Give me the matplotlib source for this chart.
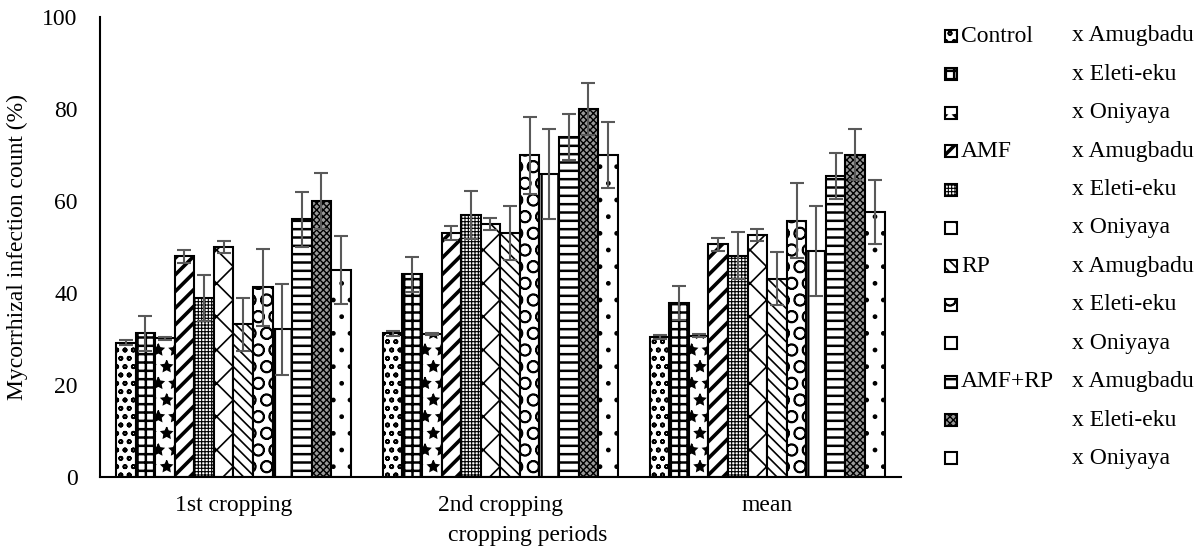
import numpy as np
import matplotlib
matplotlib.use("Agg")
import matplotlib.pyplot as plt
from matplotlib.patches import Rectangle

plt.rcParams['font.family'] = ['Liberation Serif', 'DejaVu Serif']
plt.rcParams['hatch.linewidth'] = 1.3

periods = ["1st cropping", "2nd cropping", "mean"]
treatments = ["Control", "", "", "AMF", "", "", "RP", "", "", "AMF+RP", "", ""]
locations = ["x Amugbadu", "x Eleti-eku", "x Oniyaya"] * 4

# rows = treatment x location, cols = period
values = [
    [29.2, 31.2, 30.4],
    [31.2, 44.1, 37.8],
    [30.1, 31.0, 30.7],
    [48.0, 53.0, 50.6],
    [39.0, 57.0, 48.1],
    [50.0, 55.0, 52.6],
    [33.2, 53.0, 43.1],
    [41.2, 69.9, 55.7],
    [32.1, 65.9, 49.1],
    [56.0, 74.0, 65.4],
    [60.0, 80.0, 70.1],
    [45.0, 70.0, 57.6],
]
errors = [
    [0.5, 0.6, 0.5],
    [3.8, 3.8, 3.6],
    [0.3, 0.2, 0.3],
    [1.4, 1.5, 1.4],
    [5.0, 5.2, 5.1],
    [1.4, 1.4, 1.4],
    [5.8, 5.8, 5.8],
    [8.3, 8.3, 8.1],
    [9.9, 9.8, 9.7],
    [6.0, 5.0, 5.0],
    [6.0, 5.6, 5.6],
    [7.3, 7.1, 7.0],
]

hatches = ['oo', '++', '*', '//', '+++++', 'x', '\\\\\\', 'O', '|', '--', 'xxxxx', '.']
hatch_lw = [1.2, 1.8, 1.0, 2.6, 0.8, 1.2, 1.2, 1.2, 1.6, 1.8, 1.0, 1.0]
faces = ['white'] * 10 + ['#9a9a9a', 'white']


def set_hlw(p, lw):
    try:
        p.set_hatch_linewidth(lw)
    except AttributeError:
        pass


fig = plt.figure(figsize=(12.04, 5.5), dpi=100)
ax = fig.add_axes([0.083, 0.133, 0.665, 0.836])

n = len(values)
x = np.arange(len(periods))
group_w = 0.88
w = group_w / n
for i in range(n):
    pos = x - group_w / 2 + w * (i + 0.5)
    bars = ax.bar(pos, values[i], width=w, color=faces[i], edgecolor='black',
                  linewidth=1.5, hatch=hatches[i], zorder=2)
    for b in bars:
        set_hlw(b, hatch_lw[i])
    ax.errorbar(pos, values[i], yerr=errors[i], fmt='none', ecolor='#595959',
                elinewidth=1.5, capsize=5, capthick=1.5, zorder=3)

ax.set_xlim(-0.5, 2.5)
ax.set_ylim(0, 100)
ax.set_yticks(range(0, 101, 20))
ax.set_xticks(x)
ax.set_xticklabels(periods)
ax.tick_params(length=0, labelsize=17, pad=13)
ax.tick_params(axis='y', pad=16)
for s in ['top', 'right']:
    ax.spines[s].set_visible(False)
for s in ['left', 'bottom']:
    ax.spines[s].set_linewidth(1.5)
ax.set_ylabel("Mycorrhizal infection count (%)", fontsize=17, labelpad=10)
ax.set_xlabel("cropping periods", fontsize=17)
ax.xaxis.set_label_coords(0.534, -0.105)

# legend drawn as two text columns
W, H = 1204.0, 550.0
for i in range(n):
    yc = 36 + i * 38.4
    r = Rectangle((945 / W, 1 - (yc + 6) / H), 12 / W, 12 / H,
                  transform=fig.transFigure, facecolor=faces[i],
                  edgecolor='black', linewidth=1.5, hatch=hatches[i])
    set_hlw(r, hatch_lw[i])
    fig.add_artist(r)
    fig.text(961 / W, 1 - yc / H, treatments[i], fontsize=17, va='center')
    fig.text(1072 / W, 1 - yc / H, locations[i], fontsize=17, va='center')

fig.savefig("out.png", dpi=100)
